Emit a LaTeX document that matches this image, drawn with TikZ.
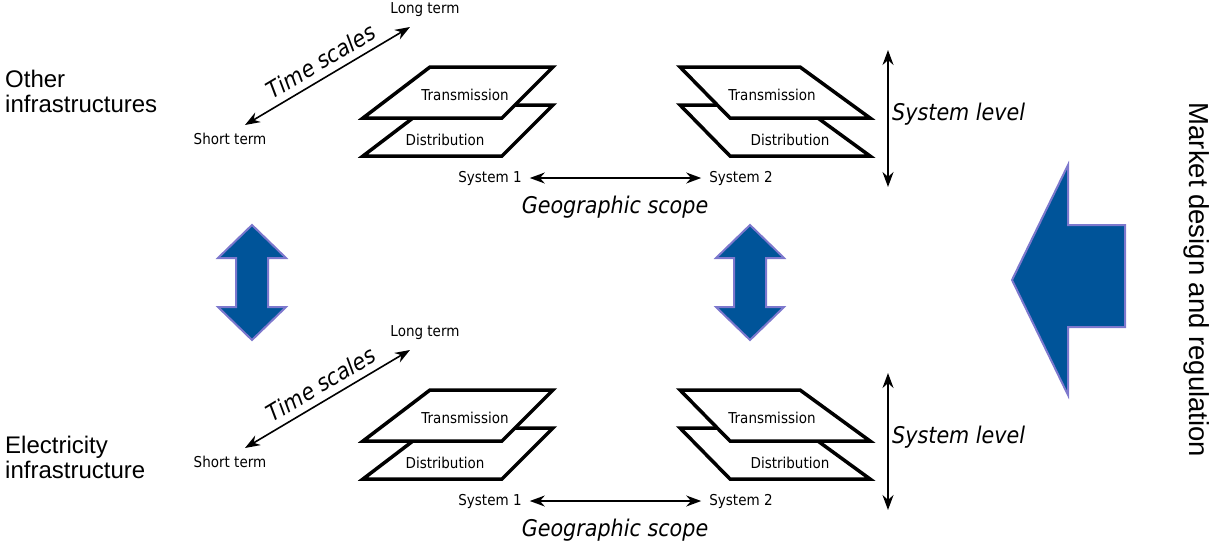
\documentclass[tikz,border=0pt]{standalone}
\usepackage{fontspec}
\setmainfont{Liberation Sans}
\newfontfamily\djf[FakeStretch=0.9]{DejaVu Sans}
\usetikzlibrary{arrows.meta}
\definecolor{bluefill}{RGB}{0,84,153}
\definecolor{blueedge}{RGB}{125,120,205}
\begin{document}
\begin{tikzpicture}[x=1pt,y=-1pt,
  lbl/.style={font=\djf\fontsize{15}{18}\selectfont, inner sep=0pt},
  big/.style={font=\djf\itshape\fontsize{23}{27}\selectfont, inner sep=0pt},
  side/.style={font=\fontsize{24}{25.5}\selectfont, align=left, inner sep=0pt, anchor=north west},
  plane/.style={draw=black, fill=white, line width=3.5pt, line join=miter},
  dbl/.style={{Stealth[length=15pt,width=11pt]}-{Stealth[length=15pt,width=11pt]}, line width=1.6pt},
  blk/.style={fill=bluefill, draw=blueedge, line width=2pt, line join=miter}]
\useasboundingbox (0,0) rectangle (1212,544);

% side labels
\node[side] (other) at (5,69.5) {Other\\infrastructures};
\node[side] (elec) at (5,435.5) {Electricity\\infrastructure};

% two panels
\foreach \dy/\p in {0/a,323/b}{
  \begin{scope}[yshift=-\dy pt]
    % time scales
    \node[lbl] (short\p) at (230,139) {Short term};
    \node[lbl] (long\p) at (425,10) {Long term};
    \coordinate (ts\p) at (245,125);
    \coordinate (tl\p) at (410,27);
    \draw[dbl] (ts\p) -- (tl\p);
    \node[big, rotate=30.7] (time\p) at (321,61) {Time scales};
    % left planes
    \draw[plane] (430,105) -- (553,105) -- (502,156) -- (363,156) -- cycle;
    \node[lbl] (dl\p) at (445,140) {Distribution};
    \draw[plane] (430,67) -- (553,67) -- (502,118) -- (363,118) -- cycle;
    \node[lbl] (tl2\p) at (465,95) {Transmission};
    % right planes
    \draw[plane] (680,105) -- (800,105) -- (870,156) -- (730,156) -- cycle;
    \node[lbl] (dr\p) at (790,140) {Distribution};
    \draw[plane] (680,67) -- (800,67) -- (870,118) -- (730,118) -- cycle;
    \node[lbl] (tr\p) at (772,95) {Transmission};
    % geographic scope
    \node[lbl] (sa\p) at (490,178) {System 1};
    \node[lbl] (sb\p) at (741,178) {System 2};
    \draw[dbl, shorten <=8pt, shorten >=8pt] (sa\p.east) -- (sb\p.west);
    \node[big] (geo\p) at (615,207) {Geographic scope};
    % system level
    \coordinate (lt\p) at (888,50);
    \coordinate (lb\p) at (888,187);
    \draw[dbl] (lt\p) -- (lb\p);
    \node[big, anchor=west] (sys\p) at (892,114) {System level};
  \end{scope}
}

% blue double arrows
\foreach \cx in {252,750}{
  \draw[blk] (\cx,225) -- (\cx+34,258) -- (\cx+16,258) -- (\cx+16,307) -- (\cx+34,307)
    -- (\cx,340) -- (\cx-34,307) -- (\cx-16,307) -- (\cx-16,258) -- (\cx-34,258) -- cycle;
}
% big left arrow
\draw[blk] (1012,280) -- (1068,165) -- (1068,225) -- (1125,225) -- (1125,327)
  -- (1068,327) -- (1068,395) -- cycle;

\node[font=\fontsize{27.5}{30}\selectfont, rotate=-90, inner sep=0pt] (market) at (1197,280) {Market design and regulation};
\end{tikzpicture}
\end{document}
